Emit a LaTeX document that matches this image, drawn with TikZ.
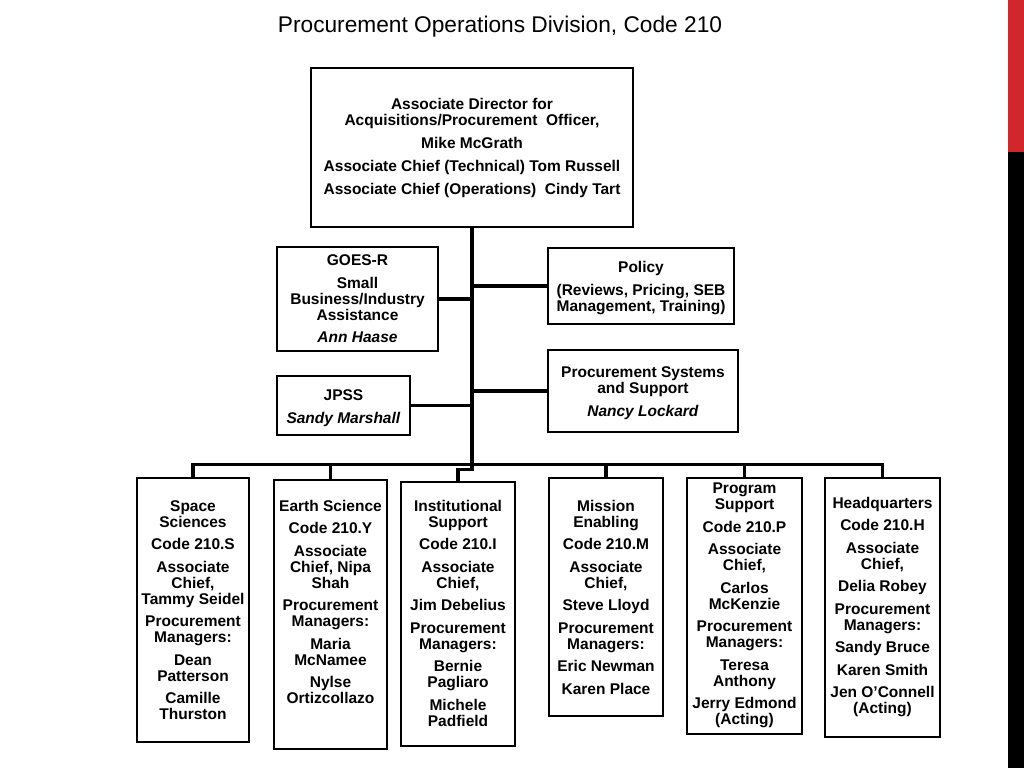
\documentclass[tikz,border=0pt]{standalone}
\usepackage{fontspec}
\setmainfont{Liberation Sans}
\definecolor{barred}{RGB}{210,38,45}
\newcommand{\pgap}{\\[6.5pt]}
\begin{document}
\begin{tikzpicture}[x=1pt,y=-1pt,
  box/.style={draw, line width=2.8pt, inner sep=0pt, fill=white},
  lbl/.style={font=\fontsize{15.5}{16}\selectfont\bfseries, align=center, inner sep=0pt, anchor=north},
  conn/.style={line width=3.4pt},
  titlestyle/.style={font=\fontsize{22.7}{26}\selectfont, inner sep=0pt, anchor=base}]
\useasboundingbox (0,0) rectangle (1024,768);
\fill[barred] (1008,0) rectangle (1024,152);
\fill[black] (1008,152) rectangle (1024,768);

\node[titlestyle] (title) at (500,33) {Procurement Operations Division, Code 210};

% boxes
\node[box, minimum width=322pt, minimum height=159pt] (top) at (472,147.5) {};
\node[box, minimum width=161pt, minimum height=104pt] (goes) at (357.5,299) {};
\node[box, minimum width=133pt, minimum height=59pt] (jpss) at (343.5,405.5) {};
\node[box, minimum width=186pt, minimum height=76pt] (pol) at (641,286) {};
\node[box, minimum width=190pt, minimum height=82pt] (psys) at (643,391) {};
\node[box, minimum width=112pt, minimum height=264pt] (ss) at (193,610) {};
\node[box, minimum width=113pt, minimum height=269pt] (es) at (330.5,614.5) {};
\node[box, minimum width=114pt, minimum height=264pt] (inst) at (458,614) {};
\node[box, minimum width=114pt, minimum height=238pt] (me) at (606,597) {};
\node[box, minimum width=115pt, minimum height=256pt] (ps) at (744.5,606) {};
\node[box, minimum width=115pt, minimum height=259pt] (hq) at (882.5,607.5) {};

% texts
\node[lbl] (topT) at (472,98) {Associate Director for\\Acquisitions/Procurement~~Officer,\\[7pt]Mike McGrath\\[7pt]Associate Chief (Technical) Tom Russell\\[7pt]Associate Chief (Operations)~~Cindy Tart};
\node[lbl] (goesT) at (357.5,254.5) {GOES-R\pgap Small\\Business/Industry\\Assistance\pgap \textit{Ann Haase}};
\node[lbl] (jpssT) at (343.5,389.5) {JPSS\pgap \textit{Sandy Marshall}};
\node[lbl] (polT) at (641,261.5) {Policy\pgap (Reviews, Pricing, SEB\\Management, Training)};
\node[lbl] (psysT) at (643,366.5) {Procurement Systems\\and Support\pgap \textit{Nancy Lockard}};
\node[lbl] (ssT) at (193,500) {Space\\Sciences\pgap Code 210.S\pgap Associate\\Chief,\\Tammy Seidel\pgap Procurement\\Managers:\pgap Dean\\Patterson\pgap Camille\\Thurston};
\node[lbl] (esT) at (330.5,500) {Earth Science\pgap Code 210.Y\pgap Associate\\Chief, Nipa\\Shah\pgap Procurement\\Managers:\pgap Maria\\McNamee\pgap Nylse\\Ortizcollazo};
\node[lbl] (instT) at (458,500) {Institutional\\Support\pgap Code 210.I\pgap Associate\\Chief,\pgap Jim Debelius\pgap Procurement\\Managers:\pgap Bernie\\Pagliaro\pgap Michele\\Padfield};
\node[lbl] (meT) at (606,500) {Mission\\Enabling\pgap Code 210.M\pgap Associate\\Chief,\pgap Steve Lloyd\pgap Procurement\\Managers:\pgap Eric Newman\pgap Karen Place};
\node[lbl] (psT) at (744.5,483) {Program\\Support\pgap Code 210.P\pgap Associate\\Chief,\pgap Carlos\\McKenzie\pgap Procurement\\Managers:\pgap Teresa\\Anthony\pgap Jerry Edmond\\(Acting)};
\node[lbl] (hqT) at (882.5,497) {Headquarters\pgap Code 210.H\pgap Associate\\Chief,\pgap Delia Robey\pgap Procurement\\Managers:\pgap Sandy Bruce\pgap Karen Smith\pgap Jen O’Connell\\(Acting)};

% connectors
\coordinate (bus) at (472,466);
\draw[conn] (top.south) -- ++(0,241) -| (inst.north);
\draw[conn] (ss.north) -- ++(0,-12) -| (hq.north);
\draw[conn] (es.north) -- (es.north |- bus);
\draw[conn] (me.north) -- (me.north |- bus);
\draw[conn] (ps.north) -- (ps.north |- bus);
\draw[conn] (goes.east) -- (goes.east -| top.south);
\draw[conn] (jpss.east) -- (jpss.east -| top.south);
\draw[conn] (pol.west) -- (pol.west -| top.south);
\draw[conn] (psys.west) -- (psys.west -| top.south);
\end{tikzpicture}
\end{document}
